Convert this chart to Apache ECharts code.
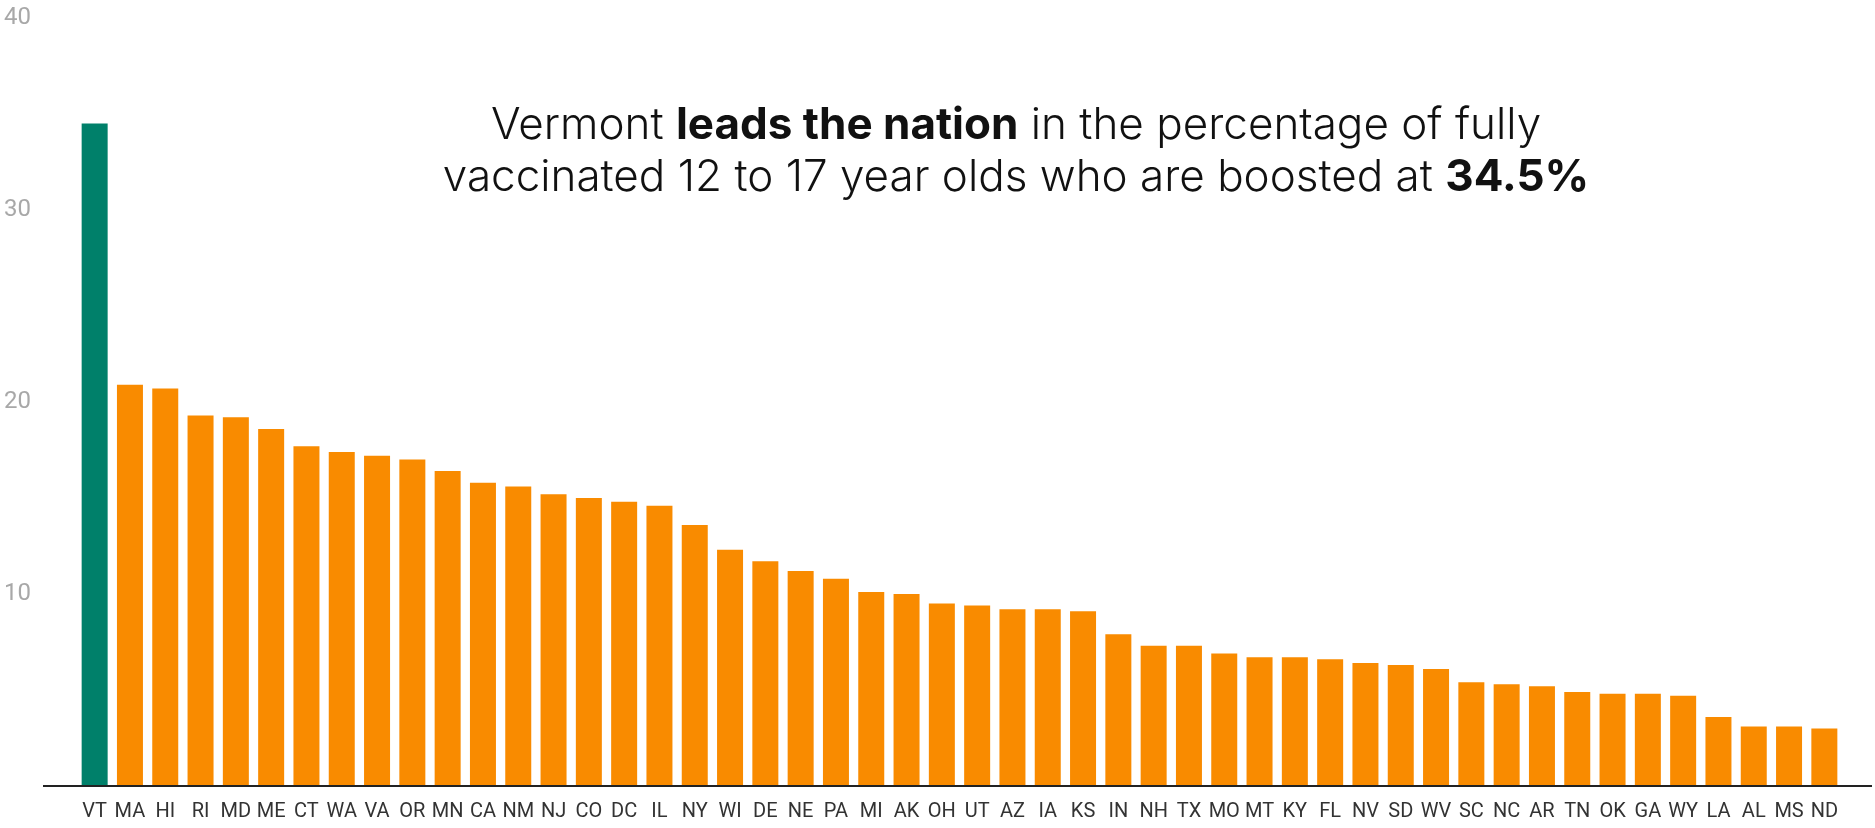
<!DOCTYPE html>
<html>
<head>
<meta charset="utf-8">
<script src="https://cdn.jsdelivr.net/npm/echarts@6/dist/echarts.min.js"></script>
<style>
html,body{margin:0;padding:0;background:#fff;}
#main{width:1875px;height:828px;}
</style>
</head>
<body>
<div id="main"></div>
<script>
const states = ['VT','MA','HI','RI','MD','ME','CT','WA','VA','OR','MN','CA','NM','NJ','CO','DC','IL','NY','WI','DE','NE','PA','MI','AK','OH','UT','AZ','IA','KS','IN','NH','TX','MO','MT','KY','FL','NV','SD','WV','SC','NC','AR','TN','OK','GA','WY','LA','AL','MS','ND'];
const boosted = [34.5,20.9,20.7,19.3,19.2,18.6,17.7,17.4,17.2,17.0,16.4,15.8,15.6,15.2,15.0,14.8,14.6,13.6,12.3,11.7,11.2,10.8,10.1,10.0,9.5,9.4,9.2,9.2,9.1,7.9,7.3,7.3,6.9,6.7,6.7,6.6,6.4,6.3,6.1,5.4,5.3,5.2,4.9,4.8,4.8,4.7,3.6,3.1,3.1,3.0];
const highlightState = 'VT';
const yTicks = [0, 10, 20, 30, 40];
const titleLine1 = ['Vermont ', 'leads the nation', ' in the percentage of fully'];
const titleLine2 = ['vaccinated 12 to 17 year olds who are boosted at ', '34.5%'];

const chart = echarts.init(document.getElementById('main'), null, {renderer: 'canvas'});

const option = {
  animation: false,
  backgroundColor: '#ffffff',
  title: {
    text: '{n|' + titleLine1[0] + '}{b|' + titleLine1[1] + '}{n|' + titleLine1[2] + '}\n' +
          '{n|' + titleLine2[0] + '}{b|' + titleLine2[1] + '}',
    left: 1016,
    top: 100,
    textAlign: 'center',
    padding: 0,
    textStyle: {
      rich: {
        n: {fontFamily: 'Inter', fontSize: 44, fontWeight: 300, color: '#111', lineHeight: 52},
        b: {fontFamily: 'Inter', fontSize: 44, fontWeight: 700, color: '#111', lineHeight: 52}
      }
    }
  },
  grid: {left: 77, right: 33, top: 18, bottom: 42, containLabel: false},
  xAxis: {
    type: 'category',
    data: states,
    axisLine: {show: false},
    axisTick: {show: false},
    axisLabel: {
      interval: 0,
      fontFamily: 'Roboto',
      fontSize: 20,
      color: '#333',
      margin: 16
    }
  },
  yAxis: {
    type: 'value',
    min: yTicks[0],
    max: yTicks[yTicks.length - 1],
    interval: 10,
    splitLine: {show: false},
    axisLine: {show: false},
    axisTick: {show: false},
    axisLabel: {
      fontFamily: 'Roboto',
      fontSize: 24,
      color: '#a8a8a8',
      margin: 46,
      formatter: function (v) { return v === 0 ? '' : String(v); }
    }
  },
  series: [{
    type: 'bar',
    data: boosted,
    barWidth: 26,
    itemStyle: {
      color: function (p) { return states[p.dataIndex] === highlightState ? '#00806a' : '#f98b00'; }
    }
  }]
};
chart.setOption(option);
const y0 = chart.convertToPixel({yAxisIndex: 0}, 0);
chart.setOption({
  graphic: [{
    type: 'line',
    shape: {x1: 43, y1: y0, x2: 1872, y2: y0},
    style: {stroke: '#222', lineWidth: 2},
    z: 10
  }]
});
</script>
</body>
</html>
